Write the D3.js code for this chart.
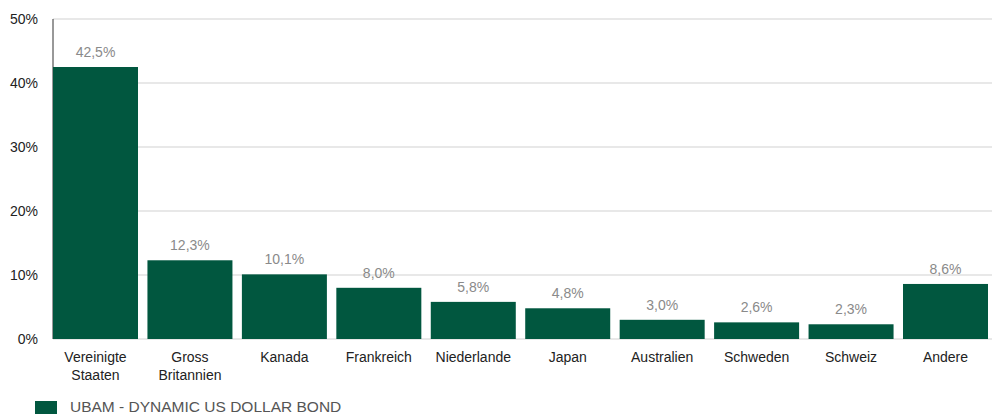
<!DOCTYPE html>
<html>
<head>
<meta charset="utf-8">
<script src="https://cdn.jsdelivr.net/npm/d3@7"></script>
<style>
  body { margin: 0; background: #fff; }
  svg { display: block; font-family: "Liberation Sans", Arial, sans-serif; }
</style>
</head>
<body>
<svg id="chart" width="992" height="414"></svg>
<script>
const categories = [
  ["Vereinigte", "Staaten"], ["Gross", "Britannien"], ["Kanada"], ["Frankreich"],
  ["Niederlande"], ["Japan"], ["Australien"], ["Schweden"], ["Schweiz"], ["Andere"]
];
const values = [42.5, 12.3, 10.1, 8.0, 5.8, 4.8, 3.0, 2.6, 2.3, 8.6];
const yTicks = [0, 10, 20, 30, 40, 50];
const seriesName = "UBAM - DYNAMIC US DOLLAR BOND";

const svg = d3.select("#chart");
const plotLeft = 53, plotRight = 988, plotTop = 19, plotBottom = 339;
const barColor = "#01573f";

const x = d3.scaleBand()
  .domain(d3.range(values.length))
  .range([plotLeft, plotRight])
  .paddingInner(0.1)
  .paddingOuter(0);

const y = d3.scaleLinear().domain([0, 50]).range([plotBottom, plotTop]);

// gridlines
svg.append("g")
  .selectAll("line")
  .data(yTicks)
  .join("line")
  .attr("x1", plotLeft)
  .attr("x2", 992)
  .attr("y1", (d) => y(d))
  .attr("y2", (d) => y(d))
  .attr("stroke", "#e0e0e0")
  .attr("stroke-width", 1.5);

// y axis line
svg.append("line")
  .attr("x1", plotLeft)
  .attr("x2", plotLeft)
  .attr("y1", y(50))
  .attr("y2", y(0))
  .attr("stroke", "#333")
  .attr("stroke-width", 1);

// y tick labels
svg.append("g")
  .selectAll("text")
  .data(yTicks)
  .join("text")
  .attr("x", 38)
  .attr("y", (d) => y(d) + 5)
  .attr("text-anchor", "end")
  .attr("font-size", 14)
  .attr("fill", "#222")
  .text((d) => `${d}%`);

// bars
svg.append("g")
  .selectAll("rect")
  .data(values)
  .join("rect")
  .attr("x", (d, i) => x(i))
  .attr("width", x.bandwidth())
  .attr("y", (d) => y(d))
  .attr("height", (d) => y(0) - y(d))
  .attr("fill", barColor);

// value labels
svg.append("g")
  .selectAll("text")
  .data(values)
  .join("text")
  .attr("x", (d, i) => x(i) + x.bandwidth() / 2)
  .attr("y", (d) => y(d) - 10)
  .attr("text-anchor", "middle")
  .attr("font-size", 14)
  .attr("fill", "#8a8a8a")
  .text((d) => d.toFixed(1).replace(".", ",") + "%");

// category labels
const catLabel = svg.append("g")
  .selectAll("text")
  .data(categories)
  .join("text")
  .attr("x", (d, i) => x(i) + x.bandwidth() / 2)
  .attr("y", 362)
  .attr("text-anchor", "middle")
  .attr("font-size", 14)
  .attr("fill", "#222");

catLabel.selectAll("tspan")
  .data((d) => d)
  .join("tspan")
  .attr("x", function () { return d3.select(this.parentNode).attr("x"); })
  .attr("dy", (d, i) => (i === 0 ? 0 : 18))
  .text((d) => d);

// legend
svg.append("rect")
  .attr("x", 35)
  .attr("y", 401)
  .attr("width", 22)
  .attr("height", 16)
  .attr("fill", barColor);

svg.append("text")
  .attr("x", 70)
  .attr("y", 412)
  .attr("font-size", 15.5)
  .attr("fill", "#555")
  .text(seriesName);
</script>
</body>
</html>
